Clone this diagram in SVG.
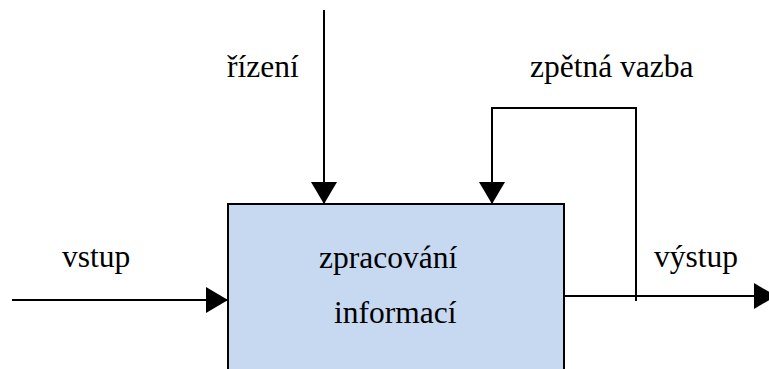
<svg xmlns="http://www.w3.org/2000/svg" width="769" height="369" viewBox="0 0 769 369">
  <style>
    text { font-family: 'Liberation Serif', 'DejaVu Serif', serif; font-size: 31.5px; fill: #000; }
    .wire { fill: none; stroke: #000; stroke-width: 2; }
    .box { fill: #C6D9F1; stroke: #000; stroke-width: 2; }
  </style>
  <defs>
    <marker id="head" viewBox="0 0 22 26" refX="22" refY="13" markerWidth="22" markerHeight="26" markerUnits="userSpaceOnUse" orient="auto">
      <path d="M0,0 L22,13 L0,26 Z" fill="#000"/>
    </marker>
  </defs>

  <g id="process">
    <rect class="box" x="228" y="204" width="336" height="180"/>
    <text x="319" y="268" font-family="Liberation Serif, serif">zpracování</text>
    <text x="334" y="323" font-family="Liberation Serif, serif">informací</text>
  </g>

  <g id="connectors">
    <!-- control from above -->
    <path class="wire" d="M324,10 V204" marker-end="url(#head)"/>
    <!-- feedback loop -->
    <path class="wire" d="M636,301 V108 H492 V204" marker-end="url(#head)"/>
    <!-- input -->
    <path class="wire" d="M12,300 H228" marker-end="url(#head)"/>
    <!-- output -->
    <path class="wire" d="M564,296 H776" marker-end="url(#head)"/>
  </g>

  <g id="labels" font-family="Liberation Serif, serif">
    <text x="227" y="77">řízení</text>
    <text x="530" y="77">zpětná vazba</text>
    <text x="62" y="267">vstup</text>
    <text x="654" y="267">výstup</text>
  </g>
</svg>
